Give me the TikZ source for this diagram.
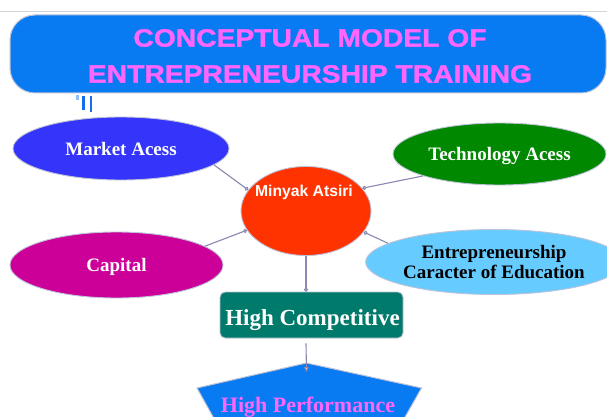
\documentclass[tikz,border=0pt]{standalone}
\usepackage{fontspec}
\setmainfont{Liberation Serif}
\newfontfamily\titlefont[FakeStretch=1.13,FakeBold=1.3]{Liberation Sans}
\newfontfamily\labelsans{Liberation Sans}
\usetikzlibrary{shapes.geometric,arrows.meta}
\definecolor{titleblue}{RGB}{8,122,242}
\definecolor{titlepink}{RGB}{255,102,255}
\definecolor{marketblue}{RGB}{52,52,250}
\definecolor{techgreen}{RGB}{0,136,0}
\definecolor{minyakred}{RGB}{255,51,0}
\definecolor{capmag}{RGB}{204,0,153}
\definecolor{entlight}{RGB}{102,204,255}
\definecolor{hcteal}{RGB}{0,122,106}
\definecolor{connline}{RGB}{136,136,176}
\definecolor{shapeborder}{RGB}{190,195,215}
\definecolor{topline}{RGB}{210,212,220}
\definecolor{markblue}{RGB}{20,110,235}
\begin{document}
\begin{tikzpicture}[x=1pt,y=-1pt,
  oval/.style={ellipse, draw=shapeborder, line width=0.9pt, inner sep=0pt,
    font=\bfseries\fontsize{19}{20}\selectfont},
  conn/.style={draw=connline, line width=1.1pt},
  circtip/.style={-{Circle[open,length=4pt,width=4pt,fill=white]}},
]
\useasboundingbox (0,0) rectangle (607,417);
\clip (0,0) rectangle (607,417);
\fill[white] (0,0) rectangle (607,417);

% thin top line
\draw[topline, line width=1pt] (0,12) -- (607,12);

% title
\node[draw=shapeborder, line width=1pt, fill=titleblue, rounded corners=25pt,
  minimum width=596pt, minimum height=78pt, inner sep=0pt] (titlebox) at (308,54) {};
\node[text=titlepink, align=center,
  font=\titlefont\bfseries\fontsize{25}{36}\selectfont] (title) at (310,56)
  {CONCEPTUAL MODEL OF\\ENTREPRENEURSHIP TRAINING};

% small marks under the title box
\fill[markblue!45] (76,95) rectangle (78.5,100);
\fill[markblue] (82,96) rectangle (84.5,110);
\fill[markblue] (89.5,96) rectangle (92,112);

% ovals
\node[oval, fill=marketblue, text=white, text depth=0pt,
  minimum width=216pt, minimum height=63pt] (market) at (121,148.5) {Market Acess};
\node[oval, fill=techgreen, text=white, text depth=0pt,
  minimum width=213pt, minimum height=62pt] (tech) at (499.5,154) {Technology Acess};
\node[oval, fill=capmag, text=white, text depth=0pt,
  minimum width=213pt, minimum height=66pt] (capital) at (116.5,265) {Capital};
\node[oval, fill=entlight, text=black, align=center,
  minimum width=218pt, minimum height=65pt] (entre) at (494,262)
  {Entrepreneurship\\Caracter of Education};

% central circle
\node[ellipse, draw=shapeborder, line width=0.9pt, fill=minyakred, inner sep=0pt,
  minimum width=130pt, minimum height=89pt] (minyak) at (306,211) {};
\node[anchor=base, text=white, font=\labelsans\bfseries\fontsize{15.7}{18}\selectfont]
  (minyaklabel) at (304,196) {Minyak Atsiri};

% high competitive
\node[draw=shapeborder, line width=0.9pt, fill=hcteal, rounded corners=5pt,
  minimum width=183pt, minimum height=46pt, inner sep=0pt] (hc) at (311.5,315) {};
\node[anchor=base, text=white, font=\bfseries\fontsize{23}{26}\selectfont]
  (hclabel) at (312.5,325) {High Competitive};

% high performance
\draw[fill=titleblue, draw=shapeborder, line width=1pt]
  (306.5,363) -- (421.5,388) -- (392,440) -- (226,440) -- (197,388) -- cycle;
\node[anchor=base, text=titlepink, font=\bfseries\fontsize{22}{26}\selectfont]
  (hp) at (308,412) {High Performance};
\coordinate (hptip) at (306.5,372);

% connectors
\draw[conn, circtip] (market.-10) -- (minyak.160);
\draw[conn, circtip] (tech.196) -- (minyak.22);
\draw[conn, circtip] (capital.12) -- (minyak.198);
\draw[conn, circtip] (entre.170) -- (minyak.-20);
\draw[conn, circtip] (minyak.south) -- (minyak.south |- hc.north);
\draw[conn, -{Triangle[open,length=5pt,width=5pt,fill=white]}]
  ([yshift=-5pt]hc.south -| minyak.south) -- (hptip);
\end{tikzpicture}
\end{document}
